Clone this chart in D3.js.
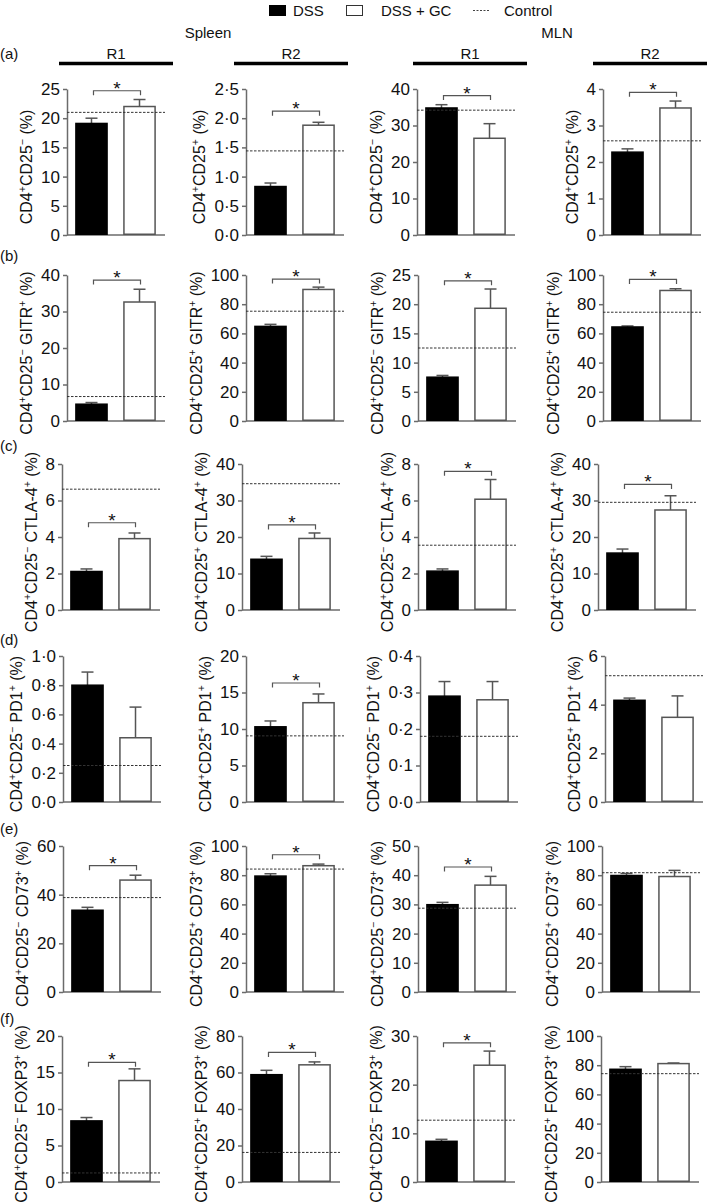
<!DOCTYPE html>
<html><head><meta charset="utf-8">
<script src="https://cdn.jsdelivr.net/npm/d3@7"></script>
<style>body{margin:0;background:#fff;} text{font-family:"Liberation Sans",Arial,Helvetica,sans-serif;fill:#111;}</style>
</head><body><svg id="c" width="709" height="1202"></svg>
<script>
// ---------- data ----------
const rowLabels = ["(a)","(b)","(c)","(d)","(e)","(f)"];
const markers = ["", "GITR", "CTLA-4", "PD1", "CD73", "FOXP3"];
const cd25Sign = ["−","+","−","+"];
const groups = ["DSS","DSS + GC"];
const tissues = ["Spleen","MLN"];
const regions = ["R1","R2","R1","R2"];
const legendLabels = ["DSS","DSS + GC","Control"];

const dssMean = [[19.1,0.83,34.8,2.27],[4.6,64.8,7.5,64.4],[2.11,13.9,2.13,15.6],[0.80,10.3,0.29,4.18],[33.6,79.4,29.9,79.8],[8.37,58.8,8.36,77.2]];
const dssErr  = [[0.9,0.06,0.9,0.09],[0.46,1.4,0.3,0.7],[0.14,0.8,0.12,1.1],[0.09,0.8,0.04,0.09],[1.2,1.6,0.8,1.4],[0.46,2.4,0.41,1.8]];
const gcMean  = [[22.0,1.88,26.5,3.48],[32.6,90.1,19.3,89.4],[3.91,19.6,6.07,27.4],[0.44,13.6,0.28,3.48],[46.0,86.5,36.6,79.1],[13.9,64.2,24.0,81.1]];
const gcErr   = [[1.2,0.05,4.0,0.19],[3.5,1.6,3.3,1.2],[0.31,1.5,1.08,3.9],[0.21,1.2,0.05,0.88],[2.0,1.1,3.0,4.2],[1.6,1.6,2.9,0.4]];
const controlVal = [[21.0,1.44,34.2,2.58],[6.7,75.2,12.5,74.5],[6.62,34.6,3.55,29.5],[0.25,9.06,0.18,5.19],[38.8,84.2,28.7,81.7],[1.24,16.2,12.7,74.2]];
const yMax  = [[25,2.5,40,4],[40,100,25,100],[8,40,8,40],[1.0,20,0.4,6],[60,100,50,100],[20,80,30,100]];
const yStep = [[5,0.5,10,1],[10,20,5,20],[2,10,2,10],[0.2,5,0.1,2],[20,20,10,20],[5,20,10,20]];
const sigY  = [[24.7,2.12,38.2,3.91],[38.6,97.2,24.0,97],[4.78,23.3,7.6,34.4],[null,16.3,null,null],[51.9,94.0,42.8,null],[16.4,71.0,28.6,null]];

// ---------- layout ----------
const rowTop = [89, 275, 464, 656, 846, 1036];
const plotH = 146, plotW = 98;
const axisX = [[67,246,417,603],[67,246,418,603],[62,242,418,598],[63,246,420,605],[63,246,418,602],[62,242,417,601]];
const rowLabelY = [59, 261, 451, 645, 834, 1024];
const axisCol = "#6b6b6b";

const svg = d3.select("#c");

// legend
const lg = svg.append("g");
lg.append("rect").attr("x",269).attr("y",5).attr("width",17).attr("height",11).attr("fill","#000");
lg.append("text").attr("x",293).attr("y",15.5).attr("font-size",15).text(legendLabels[0]);
lg.append("rect").attr("x",346.5).attr("y",5.5).attr("width",16).attr("height",10).attr("fill","#fff").attr("stroke","#333").attr("stroke-width",1);
lg.append("text").attr("x",381).attr("y",15.5).attr("font-size",15).text(legendLabels[1]);
lg.append("line").attr("x1",473).attr("x2",490).attr("y1",10.5).attr("y2",10.5).attr("stroke","#444").attr("stroke-dasharray","2,1.5");
lg.append("text").attr("x",504).attr("y",15.5).attr("font-size",15).text(legendLabels[2]);

// tissue headers
svg.append("text").attr("x",208).attr("y",38).attr("text-anchor","middle").attr("font-size",15).text(tissues[0]);
svg.append("text").attr("x",557).attr("y",38).attr("text-anchor","middle").attr("font-size",15).text(tissues[1]);
const regCenter = [116, 291, 470, 650];
const regHalf = 57;
regions.forEach((r,i)=>{
  svg.append("text").attr("x",regCenter[i]).attr("y",59).attr("text-anchor","middle").attr("font-size",15).text(r);
  svg.append("line").attr("x1",regCenter[i]-regHalf).attr("x2",regCenter[i]+regHalf).attr("y1",63.5).attr("y2",63.5).attr("stroke","#000").attr("stroke-width",3.5);
});

const fmtDot = f => (d => f(d).replace(".", "·"));

rowLabels.forEach((rl, r) => {
  svg.append("text").attr("x",0).attr("y",rowLabelY[r]).attr("font-size",15).text(rl);
  for (let c = 0; c < 4; c++) {
    const x0 = axisX[r][c], top = rowTop[r];
    const g = svg.append("g").attr("transform",`translate(${x0},${top})`);
    const y = d3.scaleLinear().domain([0, yMax[r][c]]).range([plotH, 0]);
    const x = d3.scaleBand().domain(groups).range([0, 97]).paddingInner(0.32).paddingOuter(0.17);
    const step = yStep[r][c];
    const ticks = d3.range(0, yMax[r][c] + step/2, step);
    const fmt = step < 1 ? fmtDot(d3.format(".1f")) : d3.format("d");
    const ax = g.append("g").call(d3.axisLeft(y).tickValues(ticks).tickFormat(fmt).tickSize(4).tickSizeOuter(0).tickPadding(3));
    ax.select(".domain").attr("stroke",axisCol).attr("stroke-width",1.5);
    ax.selectAll(".tick line").attr("stroke",axisCol).attr("stroke-width",1.5);
    ax.selectAll(".tick text").attr("font-size",17).attr("fill","#111").attr("font-family",'"Liberation Sans",Arial,sans-serif');
    // x axis baseline
    g.append("line").attr("x1",0).attr("x2",plotW).attr("y1",plotH).attr("y2",plotH).attr("stroke",axisCol).attr("stroke-width",1.5);

    const bars = [
      {grp: groups[0], m: dssMean[r][c], e: dssErr[r][c], fill:"#000", stroke:"#000"},
      {grp: groups[1], m: gcMean[r][c], e: gcErr[r][c], fill:"#fff", stroke:"#555"}
    ];
    bars.forEach(b => {
      const cx = x(b.grp) + x.bandwidth()/2;
      g.append("line").attr("x1",cx).attr("x2",cx).attr("y1",y(b.m)).attr("y2",y(b.m+b.e)).attr("stroke","#555").attr("stroke-width",1.5);
      g.append("line").attr("x1",cx-6).attr("x2",cx+6).attr("y1",y(b.m+b.e)).attr("y2",y(b.m+b.e)).attr("stroke","#555").attr("stroke-width",1.5);
    });
    g.selectAll("rect.bar").data(bars).join("rect").attr("class","bar")
      .attr("x", d => x(d.grp)+0.75).attr("width", x.bandwidth()-1.5)
      .attr("y", d => y(d.m)).attr("height", d => plotH - y(d.m) - 0.75)
      .attr("fill", d => d.fill).attr("stroke", d => d.stroke).attr("stroke-width",1.5);
    g.append("line").attr("x1",0).attr("x2",plotW).attr("y1",y(controlVal[r][c])).attr("y2",y(controlVal[r][c]))
      .attr("stroke","#333").attr("stroke-width",1).attr("stroke-dasharray","2.5,1.5");
    if (sigY[r][c] != null) {
      const by = y(sigY[r][c]);
      const xa = x(groups[0]) + x.bandwidth()/2 + 2, xb = x(groups[1]) + x.bandwidth()/2 + 1;
      g.append("path").attr("d",`M${xa},${by+4.5}V${by}H${xb}V${by+4.5}`).attr("fill","none").attr("stroke","#555").attr("stroke-width",1.2);
      g.append("text").attr("x",(xa+xb)/2).attr("y",by+4).attr("text-anchor","middle").attr("font-size",19).text("*");
    }
    const bb = ax.node().getBBox();
    const lx = bb.x - 9;
    const t = g.append("text").attr("transform",`translate(${lx},${plotH/2+5}) rotate(-90)`).attr("text-anchor","middle").attr("font-size",16);
    const sup = (s) => { t.append("tspan").attr("dy",-6).attr("font-size",10.5).text(s); };
    const norm = (s) => { t.append("tspan").attr("dy",6).text(s); };
    t.append("tspan").text("CD4");
    sup("+"); norm("CD25"); sup(cd25Sign[c]);
    if (markers[r]) { norm(" " + markers[r]); sup("+"); }
    norm(" (%)");
  }
});
</script>
</body></html>
